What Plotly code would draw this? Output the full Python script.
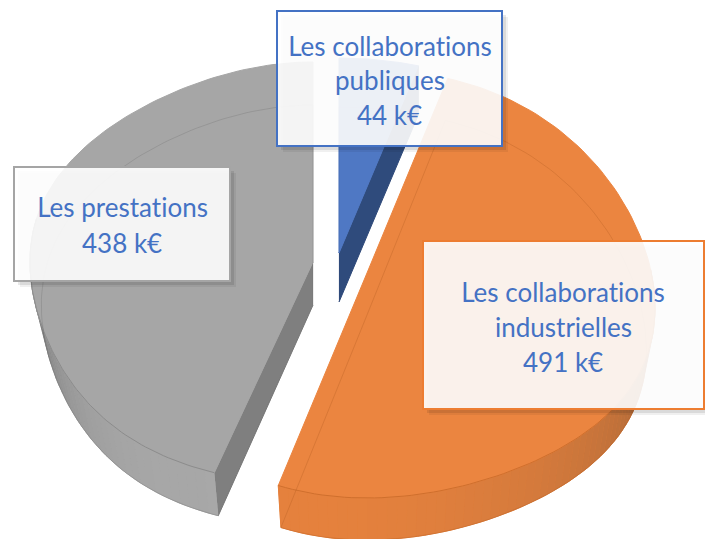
import numpy as np
import plotly.graph_objects as go

categories = ["Les collaborations publiques", "Les collaborations industrielles", "Les prestations"]
values = [44, 491, 438]
label_lines = [["Les collaborations", "publiques"], ["Les collaborations", "industrielles"], ["Les prestations"]]
top_colors = ["#4f78c4", "#eb8540", "#a6a6a6"]
side_colors = ["#2f4b7c", "#e07a35", "#7f7f7f"]
ring_colors = ["rgba(40,60,110,0.15)", "rgba(170,85,30,0.28)", "rgba(90,90,90,0.22)"]
arc_colors = [None, "#cf6f2d", "#8c8c8c"]
wall_light = [None, (230, 130, 62), (168, 168, 168)]
wall_dark = [None, (150, 95, 55), (80, 80, 80)]
# projection of each exploded slice: cx, cy, a, b, c, tilt3, front widening, depth, base scale
proj = [(339, 253, 283, 195, 0, 0, 0, 49, 1.0),
        (367, 273, 288, 214, 11, 35, 0, 42, 0.97),
        (313, 262, 283, 211, 11, 0, 0.153, 43, 0.96)]
boxes = [(277, 11, 502, 146, "#4472c4"), (423, 241, 704, 409, "#ed7d31"), (14, 167, 230, 281, "#a5a5a5")]
text_x = [389.5, 563, 122]
text_y = [[46, 80, 115], [292, 327, 362], [207, 243]]
text_color = "#4472c4"

total = sum(values)
edges = np.concatenate([[0], np.cumsum(values)]) / total * 360


def pt(p, deg, base=False):
    cx, cy, a, b, c, tilt3, widen, d, k = p
    t = np.radians(deg)
    s, co = np.sin(t), np.cos(t)
    x = cx + a * (k if base else 1) * s * (1 + widen * (-co) ** 3)
    y = cy - b * co + c * co ** 2 + tilt3 * s ** 3 + (d if base else 0)
    return x, y


def outline(p, t0, t1, base=False):
    th = np.linspace(t0, t1, 120)
    x, y = pt(p, th, base)
    ax, ay = p[0], p[1] + (p[7] if base else 0)
    return np.r_[ax, x, ax], np.r_[ay, y, ay]


fig = go.Figure()


def poly(x, y, fill, line=None, w=1):
    fig.add_trace(go.Scatter(x=x, y=y, mode="lines", fill="toself", fillcolor=fill,
                             line=dict(color=line or fill, width=w), hoverinfo="skip", showlegend=False))


for i in [0, 2, 1]:
    p = proj[i]
    t0, t1 = edges[i], edges[i + 1]
    d = p[7]
    if i in (0, 2):
        ang = t1 if i == 0 else t0
        ex, ey = pt(p, ang)
        bx, by = pt(p, ang, True)
        poly([p[0], ex, bx, p[0]], [p[1], ey, by, p[1] + d], side_colors[i])
    if wall_light[i] is not None:
        lo, hi = (t0, 282.0) if i == 2 else (80.0, t1)
        th = np.linspace(lo, hi, 80)
        x, y = pt(p, th)
        bx, by = pt(p, th, True)
        poly(np.r_[x, bx[::-1]], np.r_[y, by[::-1]], "rgb(%d,%d,%d)" % tuple(wall_light[i]))
        step = 2.0
        for s in np.arange(lo, hi, step):
            f = (s - lo) / (hi - lo)
            f = f ** 2.4 if i == 2 else (1 - f) ** 2.0
            rgb = [int(l + (k - l) * f) for l, k in zip(wall_light[i], wall_dark[i])]
            th = np.linspace(s, min(s + step, hi), 3)
            x, y = pt(p, th)
            bx, by = pt(p, th, True)
            poly(np.r_[x, bx[::-1]], np.r_[y, by[::-1]], "rgb(%d,%d,%d)" % tuple(rgb), w=0.5)
    x, y = outline(p, t0, t1)
    poly(x, y, top_colors[i])
    if arc_colors[i] is not None:
        lo, hi = (t0, 282.0) if i == 2 else (80.0, t1)
        x, y = pt(p, np.linspace(lo, hi, 80))
        fig.add_trace(go.Scatter(x=x, y=y, mode="lines", line=dict(color=arc_colors[i], width=1),
                                 hoverinfo="skip", showlegend=False))
    x, y = outline(p, t0, t1, True)
    fig.add_trace(go.Scatter(x=x, y=y, mode="lines", line=dict(color=ring_colors[i], width=1),
                             hoverinfo="skip", showlegend=False))

shapes = []
annotations = []
for i, (x0, y0, x1, y1, col) in enumerate(boxes):
    for off, al in [(6, 0.06), (4, 0.09)]:
        shapes.append(dict(type="rect", xref="x", yref="y", x0=x0 + off, y0=y0 + off, x1=x1 + off, y1=y1 + off,
                           fillcolor=f"rgba(0,0,0,{al})", line=dict(width=0)))
    shapes.append(dict(type="rect", xref="x", yref="y", x0=x0, y0=y0, x1=x1, y1=y1,
                       fillcolor="rgb(255,255,255)", opacity=0.9, line=dict(width=0)))
    shapes.append(dict(type="rect", xref="x", yref="y", x0=x0, y0=y0, x1=x1, y1=y1,
                       fillcolor="rgba(0,0,0,0)", line=dict(color=col, width=2)))
    lines = label_lines[i] + [f"{values[i]} k€"]
    for ln, yy in zip(lines, text_y[i]):
        annotations.append(dict(x=text_x[i], y=yy, xref="x", yref="y", text=ln, showarrow=False,
                                xanchor="center", yanchor="middle",
                                font=dict(family="Lato", size=26, color=text_color)))

fig.update_layout(width=705, height=539, autosize=False,
                  margin=dict(l=0, r=0, t=0, b=0),
                  paper_bgcolor="white", plot_bgcolor="white", showlegend=False,
                  xaxis=dict(range=[0, 705], visible=False, fixedrange=True),
                  yaxis=dict(range=[539, 0], visible=False, fixedrange=True),
                  shapes=shapes, annotations=annotations)
fig.write_html("out.html", config={"displayModeBar": False},
               post_script="var s=document.createElement('style');"
                           "s.textContent='body{margin:0;overflow:hidden}"
                           "text{font-variant-ligatures:none !important}';"
                           "document.head.appendChild(s);")
